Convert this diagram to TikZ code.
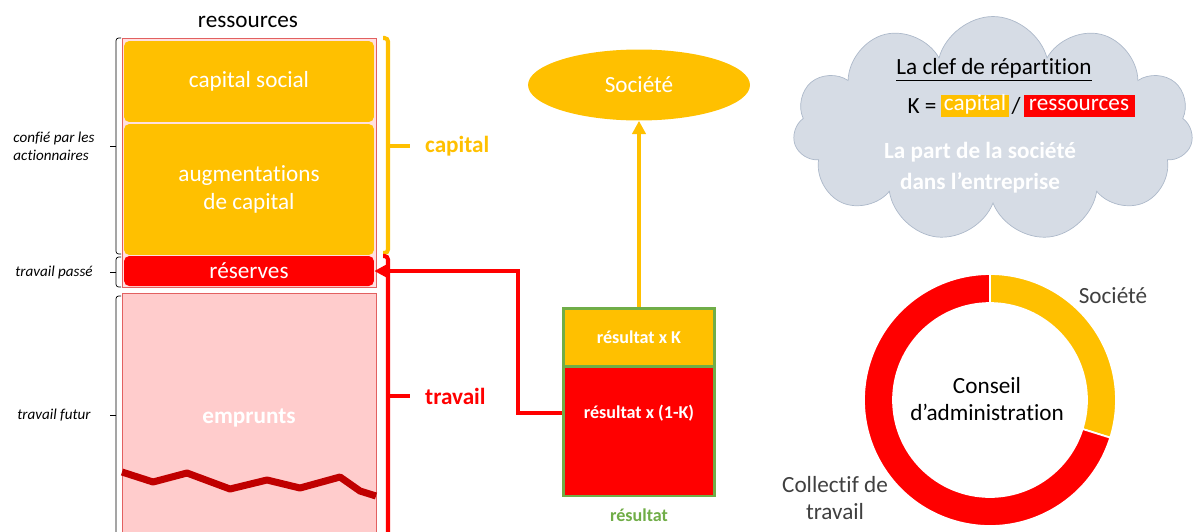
\documentclass[tikz,border=0pt]{standalone}
\usepackage{fontspec}
\setmainfont[Ligatures=NoCommon]{Carlito}
\definecolor{Orange}{RGB}{255,192,0}
\definecolor{Rouge}{RGB}{255,0,0}
\definecolor{RougeFonce}{RGB}{192,0,0}
\definecolor{Rose}{RGB}{255,204,204}
\definecolor{RoseBord}{RGB}{226,96,96}
\definecolor{Vert}{RGB}{112,173,71}
\definecolor{Nuage}{RGB}{214,220,229}
\definecolor{NuageBord}{RGB}{173,185,202}
\definecolor{GrisTexte}{RGB}{64,64,64}
\usetikzlibrary{arrows.meta, shapes.geometric, shapes.symbols, positioning}

\begin{document}
\begin{tikzpicture}[x=0.02cm, y=-0.02cm, font=\fontsize{13.2}{15.9}\selectfont,
	bloc/.style={rectangle, rounded corners=3pt, minimum width=5cm, text=white, align=center},
	gras/.style={font=\fontsize{13.2}{15.9}\selectfont\bfseries},
	petit/.style={font=\fontsize{8.6}{10.2}\selectfont\itshape, align=left},
	part/.style={rectangle, draw=Vert, line width=1.7pt, minimum width=3.02cm},
	parttxt/.style={text=white, font=\fontsize{10.3}{12.4}\selectfont\bfseries},
	fleche/.style={line width=2.2pt, -{Triangle[length=7.5pt, width=7.5pt]}},
	surl/.style={text=white, inner sep=1.4pt, text height=0.72em, text depth=0.24em}]
	\useasboundingbox (0,0) rectangle (1193,531);
	% ressources : capital, reserves et emprunts
	\node (titre) at (248,22) {ressources};
	\draw[RoseBord, fill=Rose!60] (122,38) rectangle (376,287);
	\node[bloc, fill=Orange, minimum height=1.62cm] (capsoc) at (249,81.5) {capital social};
	\node[bloc, fill=Orange, minimum height=2.62cm] (augm) at (249,189.5) {augmentations\\ de capital};
	\node[bloc, fill=Rouge, minimum height=0.6cm] (reserves) at (249,271) {réserves};
	\node[rectangle, draw=RoseBord, fill=Rose, minimum width=5.08cm, minimum height=5cm,
		text=white, gras] (emprunts) at (249,418) {emprunts};
	\draw[RougeFonce, line width=4pt, line join=round] (122,472) -- (153,482) -- (187,473)
		-- (230,489) -- (267,480) -- (300,488) -- (340,477) -- (360,491) -- (376,496);
	% crochets de gauche
	\foreach \ya/\yb/\ym/\txt [count=\i] in {38/254/146/{confié par les\\actionnaires},
		257/287/272/{travail passé}, 296/545/415/{travail futur}}{
		\draw[rounded corners=1.5pt] (121,\ya) -- (116,\ya) -- (116,\yb) -- (121,\yb);
		\draw (116,\ym) -- (110,\ym);
		\node[petit] (note\i) at (54,\ym) {\txt};}
	% crochets de droite
	\foreach \col/\ya/\yb/\ym/\txt in {Orange/38/253/146/capital, Rouge/256/545/396/travail}{
		\draw[\col, line width=2.3pt, rounded corners=2pt] (383,\ya) -- (388,\ya) -- (388,\yb) -- (383,\yb);
		\draw[\col, line width=2.3pt] (388,\ym) -- (410,\ym);
		\node[text=\col, gras, anchor=west] (lbl\txt) at (419,\ym) {\txt};}
	% resultat et partage
	\node[ellipse, fill=Orange, text=white, minimum width=4.44cm, minimum height=1.42cm] (societe) at (639,85) {Société};
	\node[part, fill=Orange, minimum height=1.16cm] (reshaut) at (639,337) {};
	\node[part, fill=Rouge, minimum height=2.6cm] (resbas) at (639,431) {};
	\node[parttxt] (reshauttxt) at (639,337) {résultat x K};
	\node[parttxt] (resbastxt) at (639,413) {résultat x (1-K)};
	\node[text=Vert, font=\fontsize{10.3}{12.4}\selectfont\bfseries] (lblres) at (639,515) {résultat};
	\draw[fleche, Orange] (reshaut.north) -- (societe.south);
	\draw[fleche, Rouge] (resbastxt -| resbas.west) -- ++(-44,0) |- (reserves.east);
	% nuage : la clef de repartition
	\node[cloud, cloud puffs=11, cloud ignores aspect, fill=Nuage, draw=NuageBord,
		minimum width=8cm, minimum height=4.5cm] (nuage) at (993,129) {};
	\node (clef) at (994,70) {\underline{La clef de répartition}};
	\node (clefK) at (922,106) {K =};
	\node[surl, fill=Orange, minimum width=1.32cm] (clefcap) at (975,106) {capital};
	\node (clefslash) at (1016,106) {/};
	\node[surl, fill=Rouge, minimum width=2.22cm] (clefres) at (1079,106) {ressources};
	\node[text=white, font=\fontsize{13.2}{17.6}\selectfont\bfseries, align=center] (partsoc) at (980,168)
		{La part de la société\\ dans l’entreprise};
	% conseil d'administration
	\filldraw[Orange, draw=white, line width=1pt] (990,400) ++(90:2.52cm) arc[start angle=90, end angle=-17.4, radius=2.52cm]
		-- ++(-17.4:-0.58cm) arc[start angle=-17.4, end angle=90, radius=1.94cm] -- cycle;
	\filldraw[Rouge, draw=white, line width=1pt] (990,400) ++(-17.4:2.52cm) arc[start angle=-17.4, end angle=-270, radius=2.52cm]
		-- ++(90:-0.58cm) arc[start angle=-270, end angle=-17.4, radius=1.94cm] -- cycle;
	\node[align=center] (ca) at (987,399) {Conseil\\ d’administration};
	\node[text=GrisTexte] (lblsoc) at (1113,296) {Société};
	\node[text=GrisTexte, align=center] (lblcoll) at (835,498) {Collectif de\\ travail};
\end{tikzpicture}
\end{document}
